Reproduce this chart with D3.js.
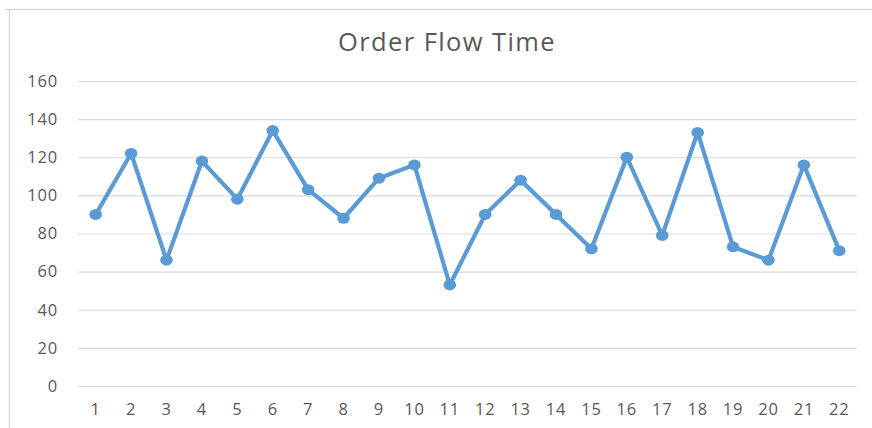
<!DOCTYPE html>
<html>
<head>
<meta charset="utf-8">
<script src="https://cdn.jsdelivr.net/npm/d3@7"></script>
<style>
  html, body { margin: 0; padding: 0; background: #fff; }
  svg { display: block; }
</style>
</head>
<body>
<svg id="chart" width="872" height="428"></svg>
<script>
const title = "Order Flow Time";
const categories = ["1","2","3","4","5","6","7","8","9","10","11","12","13","14","15","16","17","18","19","20","21","22"];
const values = [90, 122, 66, 118, 98, 134, 103, 88, 109, 116, 53, 90, 108, 90, 72, 120, 79, 133, 73, 66, 116, 71];
const yTicks = [0, 20, 40, 60, 80, 100, 120, 140, 160];

const W = 872, H = 428;
const margin = { left: 78, right: 15, top: 81, bottom: 42 };
const svg = d3.select("#chart");
const font = "'Open Sans', 'DejaVu Sans', sans-serif";
const textColor = "#595959";

// chart frame (only top & left visible)
svg.append("line").attr("x1", 5).attr("x2", W).attr("y1", 9.5).attr("y2", 9.5)
  .attr("stroke", "#d9d9d9").attr("stroke-width", 1.5);
svg.append("line").attr("x1", 9.5).attr("x2", 9.5).attr("y1", 9).attr("y2", H)
  .attr("stroke", "#d9d9d9").attr("stroke-width", 1.5);

const x = d3.scaleBand().domain(categories).range([margin.left, W - margin.right]).padding(0);
const y = d3.scaleLinear().domain([0, 160]).range([H - margin.bottom, margin.top]);

// title
svg.append("text").attr("x", 447).attr("y", 51).attr("text-anchor", "middle")
  .attr("font-family", font).attr("font-size", 25.5).attr("letter-spacing", 1.4)
  .attr("fill", textColor).text(title);

// y axis with gridlines
const yAxis = d3.axisLeft(y).tickValues(yTicks).tickSize(-(x.range()[1] - x.range()[0])).tickPadding(20);
const gy = svg.append("g").attr("transform", `translate(${margin.left},0)`).call(yAxis);
gy.select(".domain").remove();
gy.selectAll(".tick line").attr("stroke", "#d9d9d9").attr("stroke-width", 1.2);
gy.selectAll(".tick text").attr("font-family", font).attr("font-size", 16.5)
  .attr("letter-spacing", 0.8).attr("fill", textColor);

// x axis
const xAxis = d3.axisBottom(x).tickSize(0).tickPadding(17);
const gx = svg.append("g").attr("transform", `translate(0,${y(0)})`).call(xAxis);
gx.select(".domain").remove();
gx.selectAll(".tick text").attr("font-family", font).attr("font-size", 16.5)
  .attr("letter-spacing", 0.8).attr("fill", textColor);

const color = "#5b9bd5";
const line = d3.line().x((d, i) => x(categories[i]) + x.bandwidth() / 2).y(d => y(d));
svg.append("path").datum(values).attr("d", line).attr("fill", "none")
  .attr("stroke", color).attr("stroke-width", 4.2).attr("stroke-linejoin", "round");

svg.append("g").selectAll("ellipse").data(values).join("ellipse")
  .attr("cx", (d, i) => x(categories[i]) + x.bandwidth() / 2)
  .attr("cy", d => y(d))
  .attr("rx", 6.3).attr("ry", 5.5)
  .attr("fill", color);
</script>
</body>
</html>
